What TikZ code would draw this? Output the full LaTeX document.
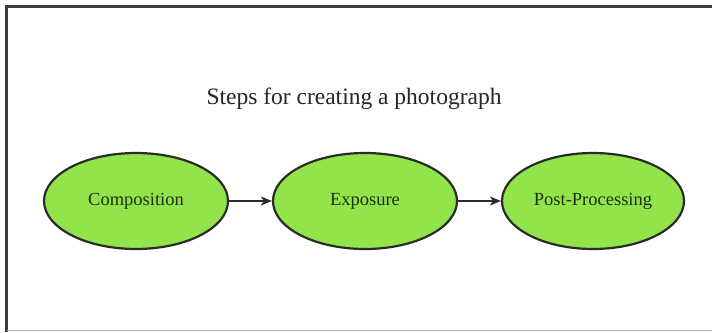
\documentclass[tikz,border=0pt]{standalone}
\usepackage{fontspec}
\setmainfont{Liberation Serif}
\usetikzlibrary{shapes.geometric,arrows.meta}
\definecolor{stepfill}{RGB}{146,228,74}
\definecolor{stepline}{RGB}{40,45,40}
\definecolor{steptext}{RGB}{25,50,15}
\definecolor{framecol}{RGB}{60,60,60}
\tikzset{
  stepnode/.style={ellipse, draw=stepline, line width=2.2pt, fill=stepfill,
    minimum width=184pt, minimum height=96pt, inner sep=0pt,
    font=\fontsize{18.5}{21}\selectfont, text=steptext},
  flow/.style={draw=stepline, line width=1.1pt, -{Stealth[length=11pt,width=9pt,inset=3pt]}},
}
\begin{document}
\begin{tikzpicture}[x=1pt,y=-1pt]
\useasboundingbox (0,0) rectangle (712,332);
\fill[white] (0,0) rectangle (712,332);
% frame
\draw[framecol, line width=3pt] (6.5,332) -- (6.5,6.5) -- (712,6.5);
\draw[gray!60, line width=1.5pt] (6.5,330.5) -- (712,330.5);
\node[font=\fontsize{23.5}{26}\selectfont, text=black!85] (title) at (354,99) {Steps for creating a photograph};
\node[stepnode] (comp) at (136,201) {Composition};
\node[stepnode] (expo) at (365,201) {Exposure};
\node[stepnode, minimum width=182pt] (post) at (593,201) {Post-Processing};
\draw[flow] (comp) -- (expo);
\draw[flow] (expo) -- (post);
\end{tikzpicture}
\end{document}
